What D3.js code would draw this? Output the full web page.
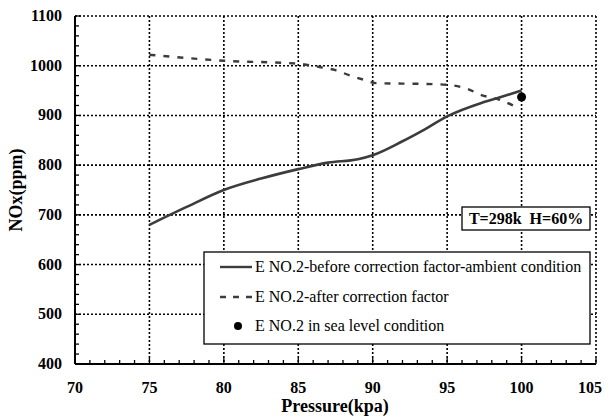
<!DOCTYPE html>
<html>
<head>
<meta charset="utf-8">
<script src="https://cdn.jsdelivr.net/npm/d3@7"></script>
<style>
  body { margin: 0; background: #fff; }
</style>
</head>
<body>
<div id="chart"></div>
<script>
// data
const beforePressure = [75, 77.5, 80, 82.5, 85, 87, 89, 90, 92, 93.5, 95, 97.3, 98.4, 100];
const beforeNOx = [680, 716, 750, 773, 792, 805, 812, 820, 848, 872, 898, 925, 935, 950];

const afterPressure = [75, 80, 85, 86.5, 87.5, 88.5, 89.5, 90.2, 92, 94, 95.2, 96.4, 97.3, 98.4, 99.5];
const afterNOx = [1022, 1010, 1004, 997, 991, 980, 971, 965, 964, 963, 961, 953, 941, 933, 919];

const seaPressure = [100];
const seaNOx = [937];

const xTicks = [70, 75, 80, 85, 90, 95, 100, 105];
const yTicks = [400, 500, 600, 700, 800, 900, 1000, 1100];

const legendLabels = [
  "E NO.2-before correction factor-ambient condition",
  "E NO.2-after correction factor",
  "E NO.2 in sea level condition"
];
const noteLabel = "T=298k  H=60%";

const width = 611, height = 417;
const margin = { top: 16, right: 15, bottom: 53, left: 75 };
const serif = "'Liberation Serif', 'Times New Roman', Times, 'DejaVu Serif', serif";

const svg = d3.select("#chart").append("svg")
  .attr("width", width)
  .attr("height", height)
  .attr("font-family", serif)
  .style("font-family", serif);

const x = d3.scaleLinear().domain([70, 105]).range([margin.left, width - margin.right]);
const y = d3.scaleLinear().domain([400, 1100]).range([height - margin.bottom, margin.top]);

const lineColor = "#3c3c3c";

// dotted grid
const grid = svg.append("g");
grid.selectAll("line.gx")
  .data(xTicks.slice(1))
  .join("line")
  .attr("x1", d => x(d)).attr("x2", d => x(d))
  .attr("y1", y(1100)).attr("y2", y(400))
  .attr("stroke", "#000").attr("stroke-width", 1.6)
  .attr("stroke-dasharray", "2,2");
grid.selectAll("line.gy")
  .data(yTicks.slice(1))
  .join("line")
  .attr("x1", x(70)).attr("x2", x(105))
  .attr("y1", d => y(d)).attr("y2", d => y(d))
  .attr("stroke", "#000").attr("stroke-width", 1.6)
  .attr("stroke-dasharray", "2,2");

// minor ticks (pointing inward)
const xMinor = d3.range(70, 105.01, 1);
const yMinor = d3.range(400, 1100.01, 20);
svg.append("g").selectAll("line")
  .data(xMinor)
  .join("line")
  .attr("x1", d => x(d)).attr("x2", d => x(d))
  .attr("y1", y(400)).attr("y2", d => y(400) - (d % 5 === 0 ? 6 : 4))
  .attr("stroke", "#000").attr("stroke-width", 1.3);
svg.append("g").selectAll("line")
  .data(yMinor)
  .join("line")
  .attr("y1", d => y(d)).attr("y2", d => y(d))
  .attr("x1", x(70)).attr("x2", d => x(70) + (d % 100 === 0 ? 6 : 4))
  .attr("stroke", "#000").attr("stroke-width", 1.3);

// solid axes
svg.append("line")
  .attr("x1", x(70)).attr("x2", x(70))
  .attr("y1", y(1100)).attr("y2", y(400))
  .attr("stroke", "#000").attr("stroke-width", 2);
svg.append("line")
  .attr("x1", x(70)).attr("x2", x(105))
  .attr("y1", y(400)).attr("y2", y(400))
  .attr("stroke", "#000").attr("stroke-width", 2);

// tick labels
svg.append("g").selectAll("text")
  .data(yTicks)
  .join("text")
  .attr("x", x(70) - 13)
  .attr("y", d => y(d) + 5)
  .attr("text-anchor", "end")
  .attr("font-size", 16)
  .attr("font-weight", "bold")
  .text(d => d);
svg.append("g").selectAll("text")
  .data(xTicks)
  .join("text")
  .attr("x", d => Math.min(x(d), 590))
  .attr("y", y(400) + 29)
  .attr("text-anchor", "middle")
  .attr("font-size", 16)
  .attr("font-weight", "bold")
  .text(d => d);

// axis titles
svg.append("text")
  .attr("x", 335).attr("y", 412)
  .attr("text-anchor", "middle")
  .attr("font-size", 18)
  .attr("font-weight", "bold")
  .text("Pressure(kpa)");
svg.append("text")
  .attr("transform", "translate(22,190) rotate(-90)")
  .attr("text-anchor", "middle")
  .attr("font-size", 18)
  .attr("font-weight", "bold")
  .text("NOx(ppm)");

// series
const before = beforePressure.map((p, i) => [p, beforeNOx[i]]);
const after = afterPressure.map((p, i) => [p, afterNOx[i]]);
const line = d3.line().x(d => x(d[0])).y(d => y(d[1])).curve(d3.curveMonotoneX);

svg.append("path")
  .datum(before)
  .attr("d", line)
  .attr("fill", "none")
  .attr("stroke", lineColor)
  .attr("stroke-width", 2.6);
svg.append("path")
  .datum(after)
  .attr("d", line)
  .attr("fill", "none")
  .attr("stroke", lineColor)
  .attr("stroke-width", 2.4)
  .attr("stroke-dasharray", "6,8");
svg.selectAll("circle.sea")
  .data(seaPressure.map((p, i) => [p, seaNOx[i]]))
  .join("circle")
  .attr("cx", d => x(d[0]))
  .attr("cy", d => y(d[1]))
  .attr("r", 4.5)
  .attr("fill", "#000");

// note box
svg.append("rect")
  .attr("x", 462).attr("y", 207)
  .attr("width", 128).attr("height", 23)
  .attr("fill", "#fff").attr("stroke", "#000").attr("stroke-width", 1.3);
svg.append("text")
  .attr("x", 526).attr("y", 224)
  .attr("text-anchor", "middle")
  .attr("font-size", 16)
  .attr("font-weight", "bold")
  .attr("xml:space", "preserve")
  .style("white-space", "pre")
  .text(noteLabel);

// legend
const lg = svg.append("g");
lg.append("rect")
  .attr("x", 204).attr("y", 252)
  .attr("width", 386).attr("height", 92)
  .attr("fill", "#fff").attr("stroke", "#000").attr("stroke-width", 1.3);
const rowY = [267, 297, 326];
lg.append("line")
  .attr("x1", 220).attr("x2", 252)
  .attr("y1", rowY[0]).attr("y2", rowY[0])
  .attr("stroke", lineColor).attr("stroke-width", 2.4);
lg.append("line")
  .attr("x1", 220).attr("x2", 252)
  .attr("y1", rowY[1]).attr("y2", rowY[1])
  .attr("stroke", lineColor).attr("stroke-width", 2.4)
  .attr("stroke-dasharray", "6,7");
lg.append("circle")
  .attr("cx", 238).attr("cy", rowY[2]).attr("r", 4)
  .attr("fill", "#000");
lg.selectAll("text")
  .data(legendLabels)
  .join("text")
  .attr("x", 255)
  .attr("y", (d, i) => rowY[i] + 5)
  .attr("font-size", 16)
  .text(d => d);
</script>
</body>
</html>
